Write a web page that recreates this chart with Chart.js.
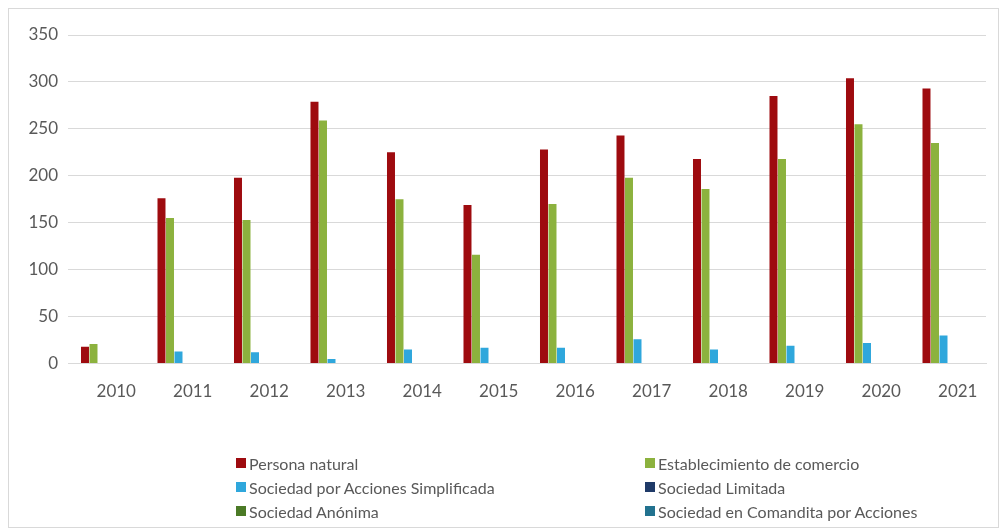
<!DOCTYPE html>
<html>
<head>
<meta charset="utf-8">
<script src="https://cdn.jsdelivr.net/npm/chart.js@4/dist/chart.umd.min.js"></script>
<style>
    body { margin: 0; background: #fff; }
    .wrap { position: relative; width: 1006px; height: 531px; }
    .frame { position: absolute; left: 8px; top: 8px; width: 991px; height: 520px; border: 1px solid #d9d9d9; box-sizing: border-box; }
    canvas { position: absolute; left: 0; top: 0; }
    .legend { position: absolute; left: 0; top: 0; font-family: Lato, sans-serif; font-size: 16px; color: #595959; }
    .legend-item { position: absolute; display: flex; align-items: center; white-space: nowrap; height: 20px; }
    .legend-box { width: 10px; height: 10px; margin-right: 3px; }
</style>
</head>
<body>
<div class="wrap">
    <div class="frame"></div>
    <canvas id="myChart" width="1006" height="531"></canvas>
    <div class="legend" id="legend"></div>
</div>
<script>
const years = ['2010', '2011', '2012', '2013', '2014', '2015', '2016', '2017', '2018', '2019', '2020', '2021']
const yTicks = [0, 50, 100, 150, 200, 250, 300, 350]

const personaNatural = [18, 176, 198, 279, 225, 169, 228, 243, 218, 285, 304, 293]
const establecimiento = [21, 155, 153, 259, 175, 116, 170, 198, 186, 218, 255, 235]
const sociedadSAS = [0, 13, 12, 5, 15, 17, 17, 26, 15, 19, 22, 30]
const sociedadLimitada = [0, 0, 0, 0, 0, 0, 0, 0, 0, 0, 0, 0]
const sociedadAnonima = [0, 0, 0, 0, 0, 0, 0, 0, 0, 0, 0, 0]
const sociedadComandita = [0, 0, 0, 0, 0, 0, 0, 0, 0, 0, 0, 0]

const seriesNames = [
    'Persona natural',
    'Establecimiento de comercio',
    'Sociedad por Acciones Simplificada',
    'Sociedad Limitada',
    'Sociedad Anónima',
    'Sociedad en Comandita por Acciones'
]
const seriesColors = ['#9e0b0f', '#8cb23e', '#2fa7dc', '#1f3a68', '#4b7a26', '#22728f']
const seriesData = [personaNatural, establecimiento, sociedadSAS, sociedadLimitada, sociedadAnonima, sociedadComandita]

renderChart()

function renderChart() {
    const ctx = document.getElementById('myChart')
    const datasets = seriesNames.map((name, i) => ({
        label: name,
        data: seriesData[i],
        backgroundColor: seriesColors[i],
        borderWidth: 0,
        categoryPercentage: 0.667,
        barPercentage: 0.94
    }))

    const chart = new Chart(ctx, {
        type: 'bar',
        data: { labels: years, datasets: datasets },
        options: {
            responsive: false,
            animation: false,
            layout: { padding: { left: 8, right: 20, top: 35, bottom: 111 } },
            plugins: {
                legend: { display: false },
                tooltip: { enabled: false }
            },
            scales: {
                x: {
                    grid: { display: false, drawTicks: false },
                    border: { color: '#d9d9d9' },
                    ticks: {
                        color: '#595959',
                        font: { family: 'Lato', size: 17 },
                        padding: 18,
                        labelOffset: 10,
                        maxRotation: 0
                    }
                },
                y: {
                    min: 0,
                    max: 350,
                    afterBuildTicks: scale => { scale.ticks = yTicks.map(v => ({ value: v })) },
                    afterFit: scale => { scale.width = 60 },
                    grid: { color: '#d9d9d9', drawTicks: false },
                    border: { display: false },
                    ticks: {
                        color: '#595959',
                        font: { family: 'Lato', size: 17 },
                        padding: 10
                    }
                }
            }
        }
    })

    renderLegend(chart)
}

function renderLegend(chart) {
    const elLegend = document.getElementById('legend')
    const colX = [236, 645]
    const rowY = [453, 477, 501]
    chart.data.datasets.forEach((ds, i) => {
        const item = document.createElement('div')
        item.className = 'legend-item'
        item.style.left = colX[i % 2] + 'px'
        item.style.top = rowY[Math.floor(i / 2)] + 'px'
        const box = document.createElement('span')
        box.className = 'legend-box'
        box.style.background = ds.backgroundColor
        const text = document.createElement('span')
        text.innerText = ds.label
        item.appendChild(box)
        item.appendChild(text)
        elLegend.appendChild(item)
    })
}
</script>
</body>
</html>
